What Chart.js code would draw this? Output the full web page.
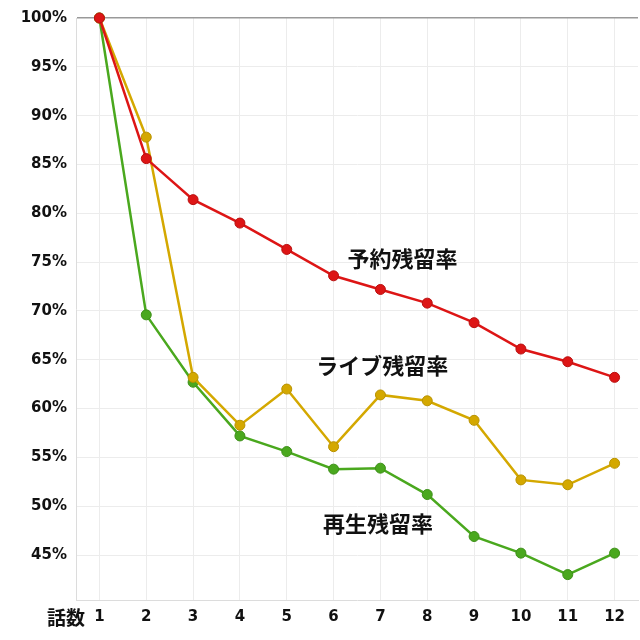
<!DOCTYPE html>
<html lang="ja">
<head>
<meta charset="UTF-8" />
<title>残留率</title>
<style>
  html, body { margin: 0; padding: 0; background: #fff; }
  #wrap { width: 640px; height: 640px; }
</style>
</head>
<body>
<div id="wrap"><canvas id="chart"></canvas></div>
<script src="https://cdn.jsdelivr.net/npm/chart.js"></script>
<script>
const episodes = ['1', '2', '3', '4', '5', '6', '7', '8', '9', '10', '11', '12'];
const reserveRate = [100, 85.6, 81.4, 79.0, 76.3, 73.6, 72.2, 70.8, 68.8, 66.1, 64.8, 63.2];
const liveRate = [100, 87.8, 63.2, 58.3, 62.0, 56.1, 61.4, 60.8, 58.8, 52.7, 52.2, 54.4];
const playRate = [100, 69.6, 62.7, 57.2, 55.6, 53.8, 53.9, 51.2, 46.9, 45.2, 43.0, 45.2];

// series name labels drawn inside the plot, placed by category index / value
const seriesLabels = [
  { text: '予約残留率', at: 6.47, value: 75.4 },
  { text: 'ライブ残留率', at: 6.04, value: 64.4 },
  { text: '再生残留率', at: 5.95, value: 48.2 }
];
const xTitle = '話数';

const tickFont = { family: '"DejaVu Sans", Verdana, sans-serif', size: 15, weight: 'bold' };
const jpFont = '"Noto Sans CJK JP", sans-serif';

const labelPlugin = {
  id: 'seriesLabels',
  afterDatasetsDraw(chart) {
    const { ctx, scales: { x, y } } = chart;
    ctx.save();
    ctx.fillStyle = '#111';
    ctx.font = 'bold 22px ' + jpFont;
    ctx.textAlign = 'center';
    ctx.textBaseline = 'middle';
    seriesLabels.forEach(l => {
      const px = x.getPixelForValue(0) + (x.getPixelForValue(1) - x.getPixelForValue(0)) * l.at;
      ctx.fillText(l.text, px, y.getPixelForValue(l.value));
    });
    ctx.font = 'bold 19px ' + jpFont;
    ctx.textAlign = 'right';
    ctx.fillText(xTitle, x.left + 9, x.top + 18);
    ctx.restore();
  }
};

const ds = (data, color, edge) => ({
  data,
  borderColor: color,
  backgroundColor: color,
  pointBorderColor: edge,
  pointBorderWidth: 1,
  borderWidth: 2.5,
  pointRadius: 5,
  pointHoverRadius: 5,
  tension: 0,
  clip: false
});

new Chart(document.getElementById('chart').getContext('2d'), {
  type: 'line',
  data: {
    labels: episodes,
    datasets: [
      ds(reserveRate, '#dd1515', '#b81010'),
      ds(liveRate, '#d4a800', '#b89200'),
      ds(playRate, '#4aa81e', '#3d8f18')
    ]
  },
  options: {
    responsive: true,
    maintainAspectRatio: false,
    animation: false,
    layout: { autoPadding: false, padding: { top: 18, right: 2, left: 0, bottom: 0 } },
    plugins: { legend: { display: false }, tooltip: { enabled: false } },
    scales: {
      x: {
        offset: true,
        grid: { color: '#ececec', offset: false, drawTicks: false },
        border: { color: '#dcdcdc' },
        ticks: { color: '#111', font: tickFont, padding: 8 },
        afterFit: s => { s.height = 40; }
      },
      y: {
        min: 40.4,
        max: 100,
        grid: {
          drawTicks: false,
          color: ctx => ctx.tick && ctx.tick.value === 100 ? '#999' : '#ececec',
          lineWidth: ctx => ctx.tick && ctx.tick.value === 100 ? 1.5 : 1
        },
        border: { color: '#dcdcdc' },
        ticks: {
          stepSize: 5,
          color: '#111',
          font: tickFont,
          padding: 9,
          callback: v => (v % 5 === 0 ? v + '%' : null)
        },
        afterFit: s => { s.width = 76; }
      }
    }
  },
  plugins: [labelPlugin]
});
</script>
</body>
</html>
